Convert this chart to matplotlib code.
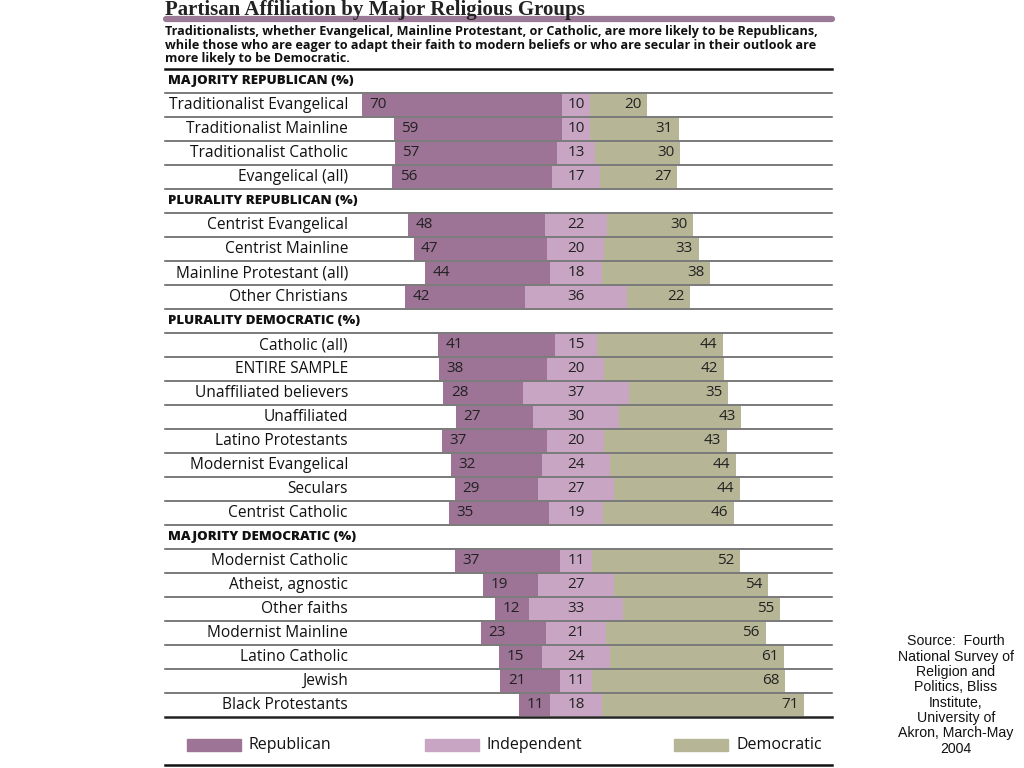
import matplotlib
matplotlib.use("Agg")
import matplotlib.pyplot as plt
from matplotlib.lines import Line2D
from matplotlib.patches import Rectangle

# groups and values (Republican, Independent, Democratic, in %)
headers = ['MAJORITY REPUBLICAN (%)', 'PLURALITY REPUBLICAN (%)',
           'PLURALITY DEMOCRATIC (%)', 'MAJORITY DEMOCRATIC (%)']

group_labels = [
    ['Traditionalist Evangelical', 'Traditionalist Mainline',
     'Traditionalist Catholic', 'Evangelical (all)'],
    ['Centrist Evangelical', 'Centrist Mainline',
     'Mainline Protestant (all)', 'Other Christians'],
    ['Catholic (all)', 'ENTIRE SAMPLE', 'Unaffiliated believers', 'Unaffiliated',
     'Latino Protestants', 'Modernist Evangelical', 'Seculars', 'Centrist Catholic'],
    ['Modernist Catholic', 'Atheist, agnostic', 'Other faiths', 'Modernist Mainline',
     'Latino Catholic', 'Jewish', 'Black Protestants'],
]
republican = [
    [70, 59, 57, 56],
    [48, 47, 44, 42],
    [41, 38, 28, 27, 37, 32, 29, 35],
    [37, 19, 12, 23, 15, 21, 11],
]
independent = [
    [10, 10, 13, 17],
    [22, 20, 18, 36],
    [15, 20, 37, 30, 20, 24, 27, 19],
    [11, 27, 33, 21, 24, 11, 18],
]
democratic = [
    [20, 31, 30, 27],
    [30, 33, 38, 22],
    [44, 42, 35, 43, 43, 44, 44, 46],
    [52, 54, 55, 56, 61, 68, 71],
]

c_rep = '#9d7396'
c_ind = '#c8a6c3'
c_dem = '#b6b697'
sans = ['Open Sans', 'DejaVu Sans']

fig = plt.figure(figsize=(10.24, 7.68), dpi=100)
ax = fig.add_axes([0, 0, 1, 1])
ax.set_xlim(-202.1, 157.2)
ax.set_ylim(27.625, -4.375)
ax.axis('off')

x0, x1 = -144.2, 89.8  # extent of rules
row = -1
for h, labs, rs, inds, ds in zip(headers, group_labels, republican, independent, democratic):
    ax.text(-143.2, row, h, ha='left', va='center', fontsize=9.6,
            fontweight='heavy', family=sans, color='#111')
    row += 1
    for lab, r, i, d in zip(labs, rs, inds, ds):
        left = -(r + i / 2)
        ax.barh(row, r, left=left, height=0.92, color=c_rep)
        ax.barh(row, i, left=left + r, height=0.92, color=c_ind)
        ax.barh(row, d, left=left + r + i, height=0.92, color=c_dem)
        ax.text(-80, row, lab, ha='right', va='center', fontsize=11.2, family=sans, color='#111')
        ax.text(left + 2.6, row, str(r), ha='left', va='center', fontsize=11, family=sans, color='#222')
        ax.text(0, row, str(i), ha='center', va='center', fontsize=11, family=sans, color='#222')
        ax.text(left + r + i + d - 2.0, row, str(d), ha='right', va='center', fontsize=11,
                family=sans, color='#222')
        row += 1

# rules between rows
for k in range(-1, row - 1):
    ax.plot([x0, x1], [k + 0.5, k + 0.5], color='#555', lw=1.1, zorder=0)
ax.plot([x0, x1], [-1.5, -1.5], color='#111', lw=1.8)
ax.plot([x0, x1], [row - 0.5, row - 0.5], color='#222', lw=1.8)
ax.plot([x0, x1], [row + 1.5, row + 1.5], color='#111', lw=1.8)

# title and subtitle
fig.text(165 / 1024, 1 - 14.5 / 768, 'Partisan Affiliation by Major Religious Groups',
         ha='left', va='baseline', fontsize=15, fontweight='bold',
         family='Liberation Serif', color='#222')
fig.add_artist(Line2D([166 / 1024, 832 / 1024], [1 - 18.5 / 768, 1 - 18.5 / 768],
                      color='#9b7a98', lw=4.5, solid_capstyle='round'))
fig.text(165 / 1024, 1 - 45 / 768,
         'Traditionalists, whether Evangelical, Mainline Protestant, or Catholic, are more likely to be Republicans,\n'
         'while those who are eager to adapt their faith to modern beliefs or who are secular in their outlook are\n'
         'more likely to be Democratic.',
         ha='left', va='center', fontsize=9.1, fontweight='bold', family=sans,
         color='#111', linespacing=1.02)

# legend
leg = [('Republican', c_rep, 187, 249), ('Independent', c_ind, 425, 486),
       ('Democratic', c_dem, 674, 736)]
for name, col, px, tx in leg:
    fig.patches.append(Rectangle((px / 1024, 1 - 751 / 768), 54 / 1024, 12 / 768,
                                 transform=fig.transFigure, color=col, figure=fig))
    fig.text(tx / 1024, 1 - 745 / 768, name, ha='left', va='center', fontsize=11.5,
             family=sans, color='#111')

# source note
fig.text(956 / 1024, 1 - 695 / 768,
         'Source:  Fourth\nNational Survey of\nReligion and\nPolitics, Bliss\nInstitute,\n'
         'University of\nAkron, March-May\n2004',
         ha='center', va='center', fontsize=10.2, family='Liberation Sans',
         color='#111', linespacing=1.12)

fig.savefig('out.png', dpi=100)
